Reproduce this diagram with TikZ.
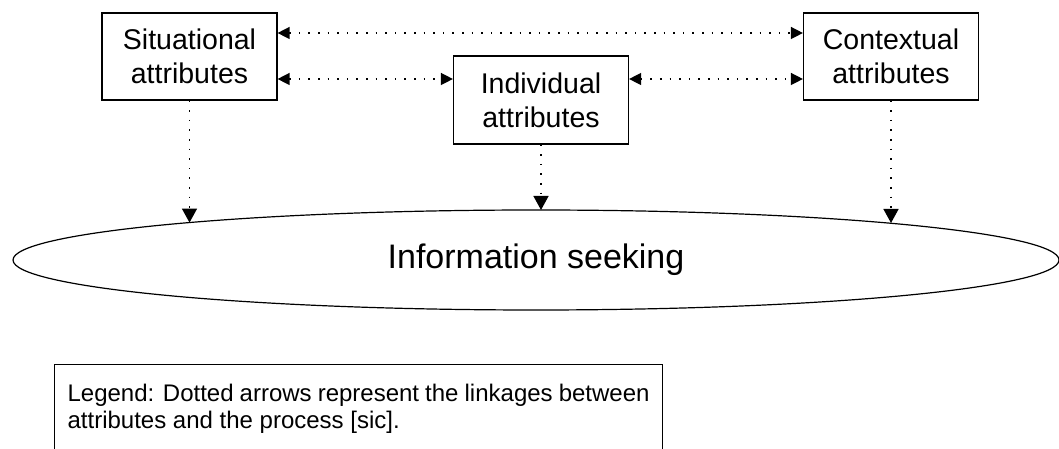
\documentclass[tikz,border=0pt]{standalone}
\usepackage{fontspec}
\setmainfont{Liberation Sans}
\usetikzlibrary{arrows.meta,shapes.geometric,calc}
\begin{document}
\begin{tikzpicture}[x=1pt,y=1pt,
  attrbox/.style={draw, line width=1.2pt, minimum width=175pt, minimum height=87pt,
    align=center, inner sep=0pt, font=\fontsize{28.5}{34}\selectfont},
  link/.style={line width=1.4pt, dash pattern=on 1.6pt off 8pt,
    {Triangle[length=12pt,width=12pt]}-{Triangle[length=12pt,width=12pt]}},
  down/.style={line width=1.4pt, dash pattern=on 1.6pt off 8pt,
    -{Triangle[length=14pt,width=15pt]}},
  procell/.style={draw, ellipse, line width=1.2pt, minimum width=1046pt,
    minimum height=100pt, inner sep=0pt, font=\fontsize{34}{40}\selectfont},
  legendbox/.style={draw, line width=1.2pt, inner xsep=13pt, inner ysep=20pt,
    font=\fontsize{24}{27}\selectfont}
]
\useasboundingbox (0,0) rectangle (1059,449);
\clip (0,0) rectangle (1059,449);

\node[attrbox] (sit) at (189.5,392.5) {Situational\\attributes};
\node[attrbox, minimum height=88pt] (ind) at (541,349) {Individual\\attributes};
\node[attrbox] (ctx) at (891,392.5) {Contextual\\attributes};

\node[procell] (ell) at (536,189) {Information seeking};

\draw[link] ([yshift=23.5pt]sit.east) -- ([yshift=23.5pt]ctx.west);
\draw[link] ([yshift=-22.5pt]sit.east) -- ([yshift=21pt]ind.west);
\draw[link] ([yshift=21pt]ind.east) -- ([yshift=-22.5pt]ctx.west);

\draw[down] (sit.south) -- (sit.south |- {$(ell.center)+(0,37.4)$});
\draw[down] (ind.south) -- (ind.south |- {$(ell.center)+(0,50)$});
\draw[down] (ctx.south) -- (ctx.south |- {$(ell.center)+(0,37.0)$});

\node[legendbox, anchor=north west] (leg) at (54,85)
  {\parbox[t][110pt][t]{582pt}{\raggedright Legend: Dotted arrows represent the linkages between\\attributes and the process [sic].}};
\end{tikzpicture}
\end{document}
